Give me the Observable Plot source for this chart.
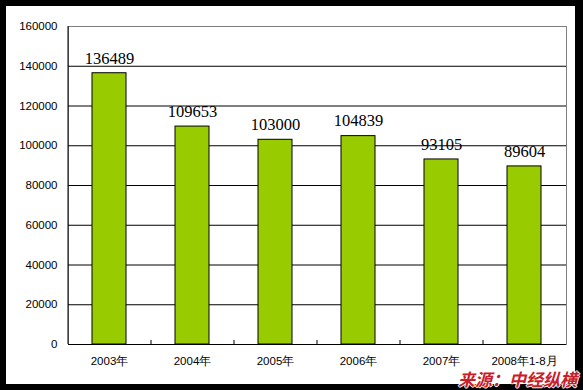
<!DOCTYPE html>
<html>
<head>
<meta charset="utf-8">
<script src="https://cdn.jsdelivr.net/npm/d3@7"></script>
<script src="https://cdn.jsdelivr.net/npm/@observablehq/plot@0.6"></script>
<style>
  html, body { margin: 0; padding: 0; background: #fff; }
  #wrap { position: relative; width: 583px; height: 390px; background: #000; overflow: hidden; }
  #inner { position: absolute; left: 6px; top: 6px; width: 569px; height: 378px; background: #fff; }
  #inner svg { display: block; background: #fff; }
  #source {
    position: absolute; left: 458px; top: 370px;
    font-family: "Noto Sans CJK SC", sans-serif; font-weight: bold; font-style: italic;
    font-size: 17px; line-height: 17px; color: #c8202a;
    text-shadow: -1px 0 #fff, 1px 0 #fff, 0 -1px #fff, 0 1px #fff;
    white-space: nowrap;
  }
</style>
</head>
<body>
<div id="wrap">
  <div id="inner"></div>
  <div id="source">来源：中经纵横</div>
</div>
<script>
const categories = ["2003年", "2004年", "2005年", "2006年", "2007年", "2008年1-8月"];
const values = [136489, 109653, 103000, 104839, 93105, 89604];
const yTicks = [0, 20000, 40000, 60000, 80000, 100000, 120000, 140000, 160000];

const data = categories.map((c, i) => ({category: c, value: values[i]}));

const chart = Plot.plot({
  width: 569,
  height: 378,
  marginLeft: 62,
  marginRight: 9,
  marginTop: 20,
  marginBottom: 40,
  style: {background: "#fff", overflow: "visible"},
  x: {domain: categories, paddingInner: 0.59, paddingOuter: 0.295, label: null},
  y: {domain: [0, 160000], ticks: yTicks, label: null},
  marks: [
    Plot.frame({stroke: "#808080"}),
    Plot.ruleY(yTicks.slice(0, -1), {stroke: "#000", strokeWidth: 1}),
    Plot.ruleX([categories[0]], {x: d => d, dx: -41.5, y1: 0, y2: 160000, stroke: "#000"}),
    Plot.ruleX(categories.slice(0, -1), {x: d => d, dx: 41.5, y1: 0, y2: 2000, stroke: "#000"}),
    Plot.barY(data, {x: "category", y: "value", fill: "#99cc00", stroke: "#000", strokeWidth: 1}),
    Plot.text(data, {x: "category", y: "value", text: d => String(d.value), dy: -15,
      fontFamily: "Liberation Serif, serif", fontSize: 16.5, fill: "#000"}),
    Plot.axisY({ticks: yTicks, tickSize: 0, tickPadding: 11, tickFormat: d => String(d),
      fontFamily: "Liberation Sans, Arial, sans-serif", fontSize: 11.5, fill: "#000", label: null}),
    Plot.axisX({tickSize: 0, tickPadding: 12, fontFamily: "Liberation Sans, Arial, sans-serif",
      fontSize: 11.5, fill: "#000", label: null})
  ]
});
document.getElementById("inner").appendChild(chart);
</script>
</body>
</html>
